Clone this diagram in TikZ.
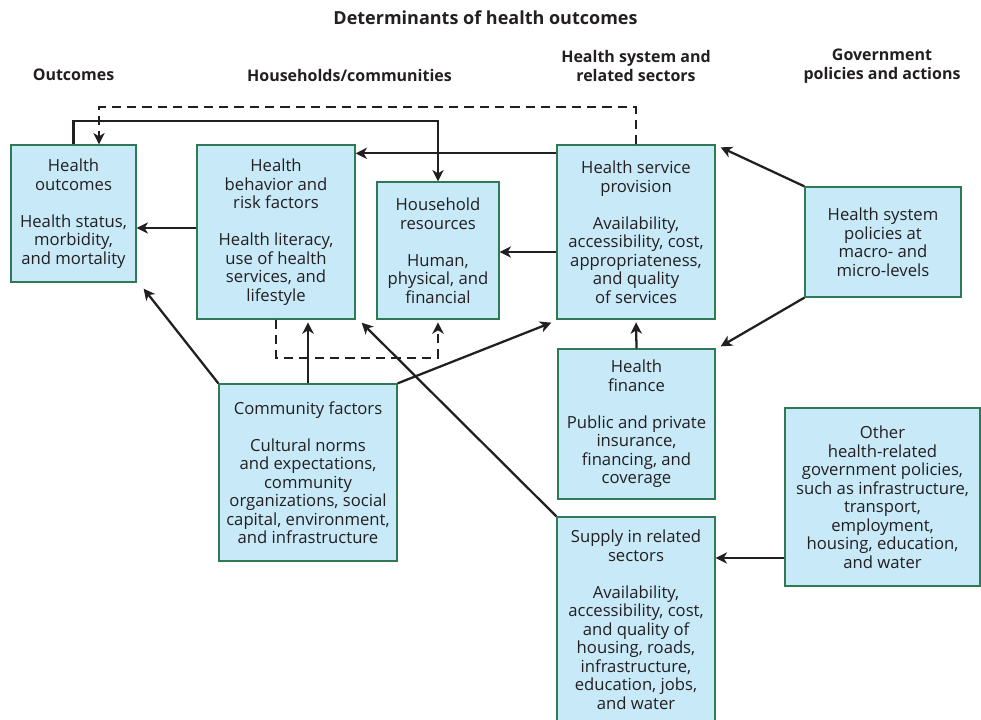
\documentclass[tikz,border=0pt]{standalone}
\usepackage{fontspec}
\setmainfont{Open Sans}
\usetikzlibrary{arrows.meta, calc}
\definecolor{boxfill}{HTML}{C7E9F8}
\definecolor{boxline}{HTML}{2F7A55}
\definecolor{ink}{HTML}{231F20}

\begin{document}
\begin{tikzpicture}[x=0.75pt, y=-0.75pt,
  box/.style={draw=boxline, fill=boxfill, line width=1pt, align=center, inner sep=0pt,
    text=ink, font=\fontsize{12.5}{13.875}\selectfont},
  arr/.style={draw=ink, line width=1.7pt, -{Stealth[length=8.5pt,width=8.5pt,inset=2.5pt]}},
  dsh/.style={arr, dash pattern=on 7pt off 4.5pt},
  head/.style={font=\bfseries\fontsize{12}{13.875}\selectfont, text=ink, align=center}]
\useasboundingbox (0,0) rectangle (981,719);

\node[head, font=\bfseries\fontsize{13.5}{14}\selectfont] (title) at (485.5,18) {Determinants of health outcomes};
\node[head] (hout) at (73.5,75) {Outcomes};
\node[head] (hcom) at (349.5,75) {Households/communities};
\node[head] (hsec) at (636,66) {Health system and\\related sectors};
\node[head] (hgov) at (882,66) {Government\\policies and actions};

\node[box, minimum width=93.75pt, minimum height=102.75pt] (out) at (73.5,213.5)
  {Health\\outcomes\\[13.875pt]Health status,\\morbidity,\\and mortality};
\node[box, minimum width=118.5pt, minimum height=130.5pt] (beh) at (276,232)
  {Health\\behavior and\\risk factors\\[13.875pt]Health literacy,\\use of health\\services, and\\lifestyle};
\node[box, minimum width=91.5pt, minimum height=102.75pt] (hh) at (438,250.5)
  {Household\\resources\\[13.875pt]Human,\\physical, and\\financial};
\node[box, minimum width=118.5pt, minimum height=130.5pt] (hsp) at (636,232)
  {Health service\\provision\\[13.875pt]Availability,\\accessibility, cost,\\appropriateness,\\and quality\\of services};
\node[box, minimum width=117pt, minimum height=82.5pt] (hsys) at (883,242)
  {Health system\\policies at\\macro- and\\micro-levels};
\node[box, minimum width=117.75pt, minimum height=112.5pt] (fin) at (636.5,424)
  {Health\\finance\\[13.875pt]Public and private\\insurance,\\financing, and\\coverage};
\node[box, minimum width=133.5pt, minimum height=132.75pt] (com) at (308,472.5)
  {Community factors\\[13.875pt]Cultural norms\\and expectations,\\community\\organizations, social\\capital, environment,\\and infrastructure};
\node[box, minimum width=146.25pt, minimum height=133.5pt] (oth) at (882.5,497)
  {Other\\health-related\\government policies,\\such as infrastructure,\\transport,\\employment,\\housing, education,\\and water};
\node[box, minimum width=118.5pt, minimum height=153.75pt] (sup) at (636,619.5)
  {Supply in related\\sectors\\[13.875pt]Availability,\\accessibility, cost,\\and quality of\\housing, roads,\\infrastructure,\\education, jobs,\\and water};

\draw[arr] (out.north) -- ++(0,-23) -| (hh.north);
\draw[dsh] (hsp.north) -- ++(0,-37) -| ($(out.north)+(25.5,0)$);
\coordinate (a1) at ($(hsp.north west)+(0,9)$);
\draw[arr] (a1) -- (beh.east |- a1);
\coordinate (a2) at ($(beh.west)+(0,-4)$);
\draw[arr] (a2) -- (out.east |- a2);
\coordinate (a3) at ($(hsp.west)+(0,20)$);
\draw[arr] (a3) -- (hh.east |- a3);
\draw[arr] (hsys.north west) -- ($(hsp.north east)+(5,3)$);
\draw[arr] (hsys.south west) -- ($(fin.north east)+(5,-2)$);
\draw[arr, shorten >=2pt] (fin.north) -- (hsp.south);
\draw[arr, shorten >=2pt] (com.north) -- (com.north |- beh.south);
\draw[arr] (com.north west) -- ($(out.south east)+(7,6)$);
\draw[arr] (com.north east) -- ($(hsp.south west)+(-5,3)$);
\draw[dsh, shorten >=2pt] (beh.south) -- ++(0,38) -| (hh.south);
\draw[arr] (sup.north west) -- ($(beh.south east)+(6,3)$);
\coordinate (a4) at ($(oth.west)+(0,61)$);
\draw[arr] (a4) -- (sup.east |- a4);
\end{tikzpicture}
\end{document}
